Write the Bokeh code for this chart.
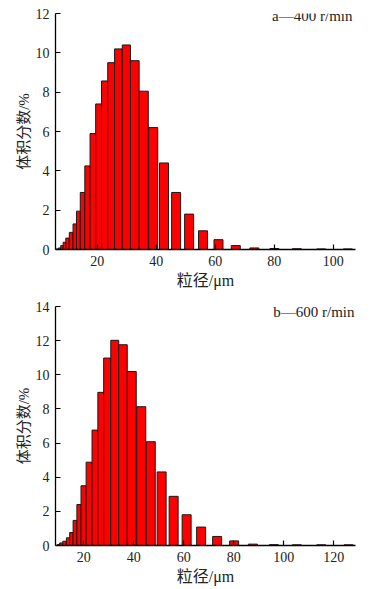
from bokeh.plotting import figure
from bokeh.models import FixedTicker, Label, Range1d
from bokeh.layouts import column
from bokeh.embed import file_html
from bokeh.resources import INLINE

# ---- data ----
size_a = [6.55, 7.3, 8.1, 8.95, 9.95, 11.2, 12.45, 13.65, 15.05, 16.7, 18.55, 20.5,
          22.55, 24.75, 27.2, 29.9, 32.75, 35.8, 39.0, 42.65, 46.75, 51.15, 55.85,
          61.1, 66.95, 73.25, 80.05, 87.65, 95.9, 104.9]
vol_a = [0.03, 0.08, 0.2, 0.37, 0.58, 0.87, 1.3, 1.95, 2.9, 4.25, 5.9, 7.4,
         8.57, 9.5, 10.2, 10.4, 9.6, 8.05, 6.2, 4.4, 2.9, 1.8, 0.95,
         0.5, 0.2, 0.08, 0.05, 0.04, 0.03, 0.03]

size_b = [9.95, 10.95, 12.3, 13.75, 15.05, 16.5, 18.1, 19.9, 22.1, 24.5, 26.85,
          29.35, 32.4, 35.7, 39.2, 43.0, 46.8, 51.15, 55.95, 61.15, 66.95, 73.35,
          80.15, 87.65, 96.05, 105.25, 115.0, 125.95]
vol_b = [0.06, 0.15, 0.25, 0.45, 0.76, 1.47, 2.4, 3.5, 4.88, 6.76, 8.97,
         10.98, 12.02, 11.76, 10.19, 8.13, 6.08, 4.31, 2.88, 1.8, 1.08, 0.53,
         0.27, 0.08, 0.05, 0.04, 0.04, 0.04]

xticks_a = [20, 40, 60, 80, 100]
xticks_b = [20, 40, 60, 80, 100, 120]
yticks_a = [0, 2, 4, 6, 8, 10, 12]
yticks_b = [0, 2, 4, 6, 8, 10, 12, 14]

title_a = "a\u2014400 r/min"
title_b = "b\u2014600 r/min"
xlabel = "粒径/μm"
ylabel = "体积分数/%"

SERIF = "Liberation Serif"
MIXED = "Liberation Serif, Noto Sans CJK SC"
TXT = "#222222"
FRAME_W = 300
BAR_CAP_PX = 9.0


def bar_widths(centers, units_per_px):
    n = len(centers)
    widths = []
    for i in range(n):
        left = (centers[i] + centers[i - 1]) / 2 if i > 0 else centers[i] - (centers[1] - centers[0]) / 2
        right = (centers[i] + centers[i + 1]) / 2 if i < n - 1 else centers[i] + (centers[i] - centers[i - 1]) / 2
        widths.append(min(right - left, BAR_CAP_PX * units_per_px))
    return widths


def panel(sizes, vols, xr, yr, xticks, yticks, title, frame_h, top, bottom, title_dy, title_dx):
    p = figure(frame_width=FRAME_W, frame_height=frame_h,
               x_range=Range1d(*xr), y_range=Range1d(*yr),
               output_backend="svg", toolbar_location=None,
               min_border_left=55, min_border_right=15,
               min_border_top=top, min_border_bottom=bottom)
    p.outline_line_color = None
    p.background_fill_color = "white"
    p.border_fill_color = "white"
    p.xgrid.visible = False
    p.ygrid.visible = False

    upp = (xr[1] - xr[0]) / FRAME_W
    w = bar_widths(sizes, upp)
    p.vbar(x=sizes, top=vols, width=w, bottom=0,
           fill_color="#ff0000", line_color="#1a1a1a", line_width=1)

    for ax in (p.xaxis[0], p.yaxis[0]):
        ax.axis_line_color = "black"
        ax.axis_line_width = 1.3
        ax.major_tick_line_color = "black"
        ax.major_tick_line_width = 1.2
        ax.major_tick_in = 5
        ax.major_tick_out = 0
        ax.minor_tick_line_color = None
        ax.major_label_text_font = SERIF
        ax.major_label_text_font_size = "14px"
        ax.major_label_text_color = TXT
        ax.axis_label_text_font = MIXED
        ax.axis_label_text_font_size = "15px"
        ax.axis_label_text_font_style = "normal"
        ax.axis_label_text_color = TXT

    p.xaxis[0].ticker = FixedTicker(ticks=xticks)
    p.yaxis[0].ticker = FixedTicker(ticks=yticks)
    p.xaxis[0].axis_label = xlabel
    p.yaxis[0].axis_label = ylabel
    p.xaxis[0].axis_label_text_font_size = "16px"
    p.xaxis[0].major_label_standoff = 6
    p.xaxis[0].axis_label_standoff = 3
    p.yaxis[0].major_label_standoff = 6
    p.yaxis[0].axis_label_standoff = 1

    p.add_layout(Label(x=xr[1], y=yr[1], x_offset=title_dx, y_offset=title_dy,
                       text=title, text_align="right", text_baseline="middle",
                       text_font=SERIF, text_font_size="15px", text_color=TXT))
    return p


pa = panel(size_a, vol_a, (5.9, 107.5), (0, 12), xticks_a, yticks_a, title_a,
           236, 13, 49, -2, -3)
pb = panel(size_b, vol_b, (8.7, 128.7), (0, 14), xticks_b, yticks_b, title_b,
           239, 8, 44, -5, -1)

layout = column(pa, pb, spacing=0)
open("out.html", "w").write(file_html(layout, INLINE))
